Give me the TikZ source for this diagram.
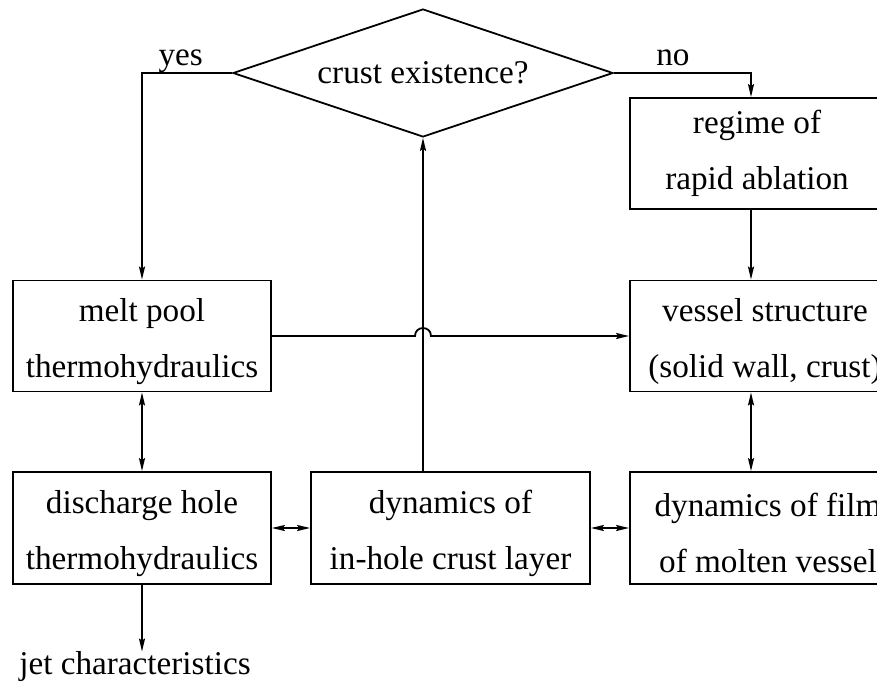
\documentclass[tikz,border=0pt]{standalone}
\usepackage{fontspec}
\setmainfont{Liberation Serif}
\usetikzlibrary{shapes.geometric,arrows.meta}

\begin{document}
\begin{tikzpicture}[x=0.5pt,y=-0.5pt,
    every node/.style={font=\fontsize{16.6}{28}\selectfont, align=center},
    box/.style={draw, rectangle, line width=0.9pt, inner sep=0pt, minimum height=55.5pt},
    low/.style={text height=45pt},
    test/.style={draw, diamond, aspect=3, line width=0.9pt, inner sep=0pt, minimum width=190pt, minimum height=64pt},
    tag/.style={above, inner sep=0pt, text depth=3.5pt},
    link/.style={line width=0.9pt, -{Stealth[length=6.5pt,width=3pt,inset=1pt]}},
    both/.style={line width=0.9pt, {Stealth[length=6.5pt,width=3pt,inset=1pt]}-{Stealth[length=6.5pt,width=3pt,inset=1pt]}}]

    \clip (0,0) rectangle (877,685);

    % Decision
    \node (exist) at (423,73) [test] {crust existence?};

    % Boxes
    \node (ablation) at (757,153.5) [box, minimum width=127pt] {regime of\\rapid ablation};
    \node (pool)     at (142,336)   [box, low, minimum width=129pt] {melt pool\\thermohydraulics};
    \node (vessel)   at (765,336)   [box, low, minimum width=135pt] {vessel structure\\(solid wall, crust)};
    \node (hole)     at (142,528)   [box, low, minimum width=129pt, minimum height=56pt] {discharge hole\\thermohydraulics};
    \node (crust)    at (450.5,528) [box, low, minimum width=139.5pt, minimum height=56pt] {dynamics of\\in-hole crust layer};
    \node (film)     at (768,528)   [box, low, minimum width=138pt, minimum height=56pt] {dynamics of film\\of molten vessel};
    \node (jet)      at (135,667)   [inner sep=0pt] {jet characteristics};

    % Helper points
    \coordinate (rcol) at (751,0);
    \coordinate (hop) at (exist.south |- pool.east);

    % Branches
    \draw[link] (exist.west) -- node[tag, pos=0.57] {yes} (pool.north |- exist.west) -- (pool.north);
    \draw[link] (exist.east) -- node[tag, pos=0.43] {no} (rcol |- exist.east) -- (ablation.north -| rcol);
    \draw[link] (ablation.south -| rcol) -- (vessel.north -| rcol);

    % Pool to vessel, hopping the crust line
    \draw[link] (pool.east) -- ([xshift=-4pt]hop)
        .. controls ([xshift=-4pt,yshift=5.3pt]hop) and ([xshift=4pt,yshift=5.3pt]hop) .. ([xshift=4pt]hop)
        -- (vessel.west);
    \draw[link] (exist.south |- crust.north) -- (exist.south);

    % Couplings
    \draw[both] (pool.south) -- (hole.north);
    \draw[both] (hole.east) -- (crust.west);
    \draw[both] (crust.east) -- (film.west);
    \draw[both] (vessel.south -| rcol) -- (film.north -| rcol);

    % Output
    \draw[link] (hole.south) -- (hole.south |- jet.north);

\end{tikzpicture}
\end{document}
